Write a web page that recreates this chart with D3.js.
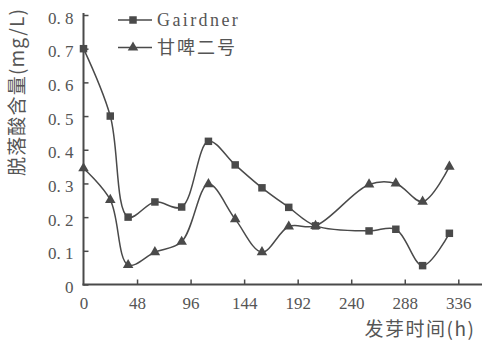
<!DOCTYPE html>
<html>
<head>
<meta charset="utf-8">
<script src="https://cdn.jsdelivr.net/npm/d3@7"></script>
<style>
  body { margin: 0; background: #fff; }
  svg { display: block; }
</style>
</head>
<body>
<svg id="chart" width="482" height="341"></svg>
<script>
// Germination time (h) and abscisic acid content (mg/L) for two barley varieties
const hours = [0, 24, 40, 64, 88, 112, 136, 160, 184, 208, 256, 280, 304, 328];
const gairdner = [0.70, 0.50, 0.20, 0.245, 0.23, 0.425, 0.355, 0.287, 0.229, 0.174, 0.159, 0.164, 0.056, 0.152];
const ganpi2 = [0.345, 0.251, 0.058, 0.096, 0.127, 0.298, 0.194, 0.096, 0.172, 0.174, 0.297, 0.300, 0.246, 0.350];
const seriesNames = ["Gairdner", "甘啤二号"];
const xTicks = [0, 48, 96, 144, 192, 240, 288, 336];
const yTicks = [0, 0.1, 0.2, 0.3, 0.4, 0.5, 0.6, 0.7, 0.8];
const xTitle = "发芽时间(h)";
const yTitle = "脱落酸含量(mg/L)";

const W = 482, H = 341;
const ink = "#4a4a4a";
const textInk = "#555";
const numFont = "'Liberation Serif', 'DejaVu Serif', serif";
const cjkFont = "'Noto Sans CJK SC', 'Noto Sans', sans-serif";

const svg = d3.select("#chart");

const x = d3.scaleLinear().domain([0, 336]).range([83.5, 458.3]);
const y = d3.scaleLinear().domain([0, 0.8]).range([284.5, 15]);

// Y axis: inward ticks, labels like "0. 8"
const yAxis = d3.axisLeft(y)
  .tickValues(yTicks)
  .tickSizeInner(-5)
  .tickSizeOuter(0)
  .tickPadding(10)
  .tickFormat(d => d === 0 ? "0" : d3.format(".1f")(d).replace(".", ". "));

const gy = svg.append("g").attr("transform", `translate(${x(0)},0)`).call(yAxis);
gy.select(".domain").remove();
gy.selectAll(".tick line").attr("stroke", ink).attr("stroke-width", 1.5);
gy.selectAll(".tick text")
  .attr("fill", textInk)
  .attr("dy", "0.48em")
  .style("font-family", numFont)
  .style("font-size", "17px")
  .style("white-space", "pre");

// X axis: inward ticks
const xAxis = d3.axisBottom(x)
  .tickValues(xTicks)
  .tickSizeInner(-5)
  .tickSizeOuter(0)
  .tickPadding(12)
  .tickFormat(d3.format("d"));

const gx = svg.append("g").attr("transform", `translate(0,${y(0)})`).call(xAxis);
gx.select(".domain").remove();
gx.selectAll(".tick line").attr("stroke", ink).attr("stroke-width", 1.5);
gx.selectAll(".tick").filter(d => d === 0).select("line").remove();
gx.selectAll(".tick text")
  .attr("fill", textInk)
  .style("font-family", numFont)
  .style("font-size", "17px");

// Axis lines
svg.append("line")
  .attr("x1", x(0)).attr("x2", x(0))
  .attr("y1", y(0) + 1).attr("y2", y(0.8) - 2)
  .attr("stroke", ink).attr("stroke-width", 2);
svg.append("line")
  .attr("x1", x(0) - 1).attr("x2", W)
  .attr("y1", y(0)).attr("y2", y(0))
  .attr("stroke", ink).attr("stroke-width", 2);

// Axis titles
svg.append("text")
  .attr("transform", `translate(24,92) rotate(-90)`)
  .attr("text-anchor", "middle")
  .attr("fill", textInk)
  .style("font-family", cjkFont)
  .style("font-size", "19px")
  .style("letter-spacing", "1.2px")
  .text(yTitle);

svg.append("text")
  .attr("x", 420).attr("y", 336)
  .attr("text-anchor", "middle")
  .attr("fill", textInk)
  .style("font-family", cjkFont)
  .style("font-size", "19px")
  .style("letter-spacing", "1.5px")
  .text(xTitle);

// Series
const symbols = [d3.symbol(d3.symbolSquare, 56), d3.symbol(d3.symbolTriangle, 48)];
const seriesData = [gairdner, ganpi2].map(vals => hours.map((h, i) => ({ h, v: vals[i] })));

const line = d3.line()
  .x(d => x(d.h))
  .y(d => y(d.v))
  .curve(d3.curveCatmullRom.alpha(0.5));

seriesData.forEach((pts, si) => {
  svg.append("path")
    .datum(pts)
    .attr("d", line)
    .attr("fill", "none")
    .attr("stroke", ink)
    .attr("stroke-width", 1.5);
  svg.append("g").selectAll("path")
    .data(pts)
    .join("path")
    .attr("d", symbols[si])
    .attr("transform", d => `translate(${x(d.h)},${y(d.v)})`)
    .attr("fill", ink);
});

// Legend
const legend = svg.append("g");
seriesNames.forEach((name, i) => {
  const ly = 20 + i * 27.5;
  legend.append("line")
    .attr("x1", 118).attr("x2", 152)
    .attr("y1", ly).attr("y2", ly)
    .attr("stroke", ink).attr("stroke-width", 1.5);
  legend.append("path")
    .attr("d", symbols[i])
    .attr("transform", `translate(133,${ly})`)
    .attr("fill", ink);
  legend.append("text")
    .attr("x", 157).attr("y", ly)
    .attr("dy", "0.35em")
    .attr("fill", textInk)
    .style("font-family", i === 0 ? numFont : cjkFont)
    .style("font-size", i === 0 ? "18px" : "18px")
    .style("letter-spacing", i === 0 ? "2.4px" : "2px")
    .text(name);
});
</script>
</body>
</html>
